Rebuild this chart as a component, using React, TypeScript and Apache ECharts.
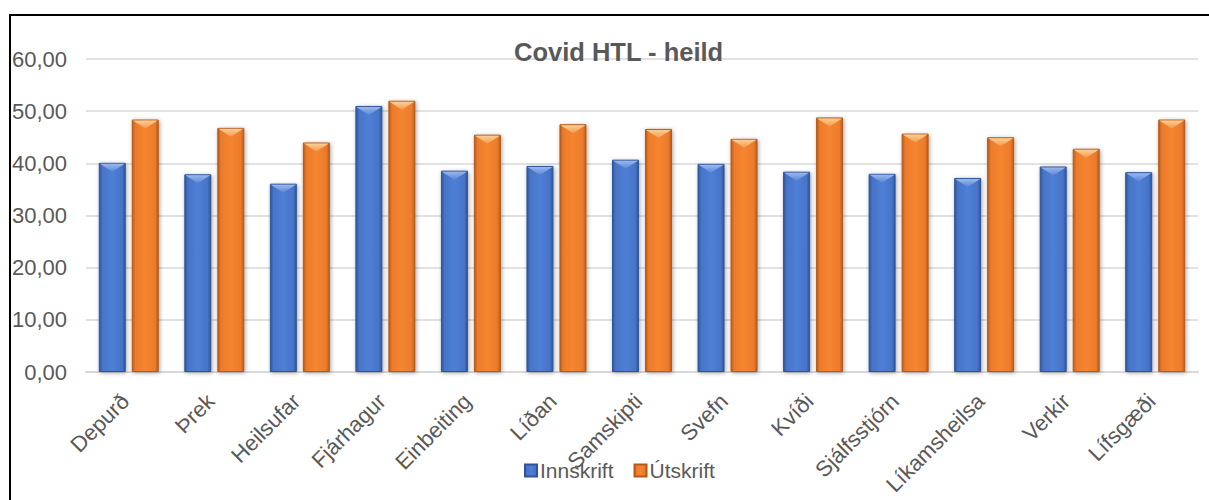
import React, { useEffect, useRef } from "react";
import * as echarts from "echarts";

const categories = [
  "Depurð",
  "Þrek",
  "Heilsufar",
  "Fjárhagur",
  "Einbeiting",
  "Líðan",
  "Samskipti",
  "Svefn",
  "Kvíði",
  "Sjálfsstjórn",
  "Líkamsheilsa",
  "Verkir",
  "Lífsgæði",
];
const innskrift = [40.1, 37.9, 36.1, 51.0, 38.6, 39.5, 40.7, 39.9, 38.4, 38.0, 37.2, 39.4, 38.3];
const utskrift = [48.4, 46.8, 44.0, 52.0, 45.5, 47.5, 46.6, 44.7, 48.8, 45.7, 45.0, 42.8, 48.4];
const seriesNames = ["Innskrift", "Útskrift"];
const yMin = 0;
const yMax = 60;
const yStep = 10;

const BAR_W = 27;
const GAP = 6;
const FONT = "'Liberation Sans', Arial, sans-serif";
const TEXT = "#595959";

const hGrad = (edge: string, mid: string, center: string) =>
  new echarts.graphic.LinearGradient(0, 0, 1, 0, [
    { offset: 0, color: edge },
    { offset: 0.12, color: mid },
    { offset: 0.5, color: center },
    { offset: 0.88, color: mid },
    { offset: 1, color: edge },
  ]);

export default function App() {
  const ref = useRef<HTMLDivElement>(null);
  useEffect(() => {
    document.body.style.margin = "0";
    if (!ref.current) return;
    const chart = echarts.init(ref.current, undefined, { renderer: "svg" });

    const bevelData: number[][] = [];
    innskrift.forEach((v, i) => bevelData.push([i, v, -1]));
    utskrift.forEach((v, i) => bevelData.push([i, v, 1]));

    const shadow = {
      shadowBlur: 4,
      shadowColor: "rgba(0,0,0,0.35)",
      shadowOffsetX: 1,
      shadowOffsetY: 1,
    };

    chart.setOption({
      animation: false,
      backgroundColor: "#ffffff",
      title: {
        text: "Covid HTL - heild",
        left: 509,
        top: 34,
        textStyle: { fontFamily: FONT, fontSize: 25.5, fontWeight: "bold", color: TEXT },
      },
      legend: {
        data: seriesNames,
        left: 519,
        top: 455,
        icon: "rect",
        itemWidth: 12,
        itemHeight: 12,
        itemGap: 20,
        textStyle: { fontFamily: FONT, fontSize: 21, color: TEXT, padding: [0, 0, 0, -2] },
      },
      grid: {
        left: 86,
        right: 11,
        top: 59,
        bottom: 128,
        containLabel: false,
        outerBoundsMode: "none",
      },
      xAxis: {
        type: "category",
        data: categories,
        axisTick: { show: false },
        axisLine: { lineStyle: { color: "#d9d9d9", width: 2 } },
        axisLabel: {
          interval: 0,
          rotate: 45,
          margin: 22,
          padding: [0, 5, 0, 0],
          fontFamily: FONT,
          fontSize: 22,
          color: TEXT,
        },
      },
      yAxis: {
        type: "value",
        min: yMin,
        max: yMax,
        interval: yStep,
        axisLine: { show: false },
        axisTick: { show: false },
        splitLine: { lineStyle: { color: "#d9d9d9", width: 1.5 } },
        axisLabel: {
          margin: 19,
          fontFamily: FONT,
          fontSize: 22,
          color: TEXT,
          formatter: (v: number) => v.toFixed(2).replace(".", ","),
        },
      },
      series: [
        {
          name: seriesNames[0],
          type: "bar",
          data: innskrift,
          barWidth: BAR_W,
          barGap: ((GAP / BAR_W) * 100).toFixed(1) + "%",
          itemStyle: {
            color: hGrad("#2f5597", "#4674c8", "#4f7fd6"),
            borderColor: "#2f5597",
            borderWidth: 1,
            ...shadow,
          },
        },
        {
          name: seriesNames[1],
          type: "bar",
          data: utskrift,
          barWidth: BAR_W,
          itemStyle: {
            color: hGrad("#b95a17", "#ec7b2c", "#f5852f"),
            borderColor: "#b35a1c",
            borderWidth: 1,
            ...shadow,
          },
        },
        {
          type: "custom",
          silent: true,
          z: 5,
          data: bevelData,
          encode: { x: 0, y: 1 },
          renderItem: (params: any, api: any) => {
            const idx = api.value(0);
            const val = api.value(1);
            const side = api.value(2);
            const p = api.coord([idx, val]);
            const cx = p[0] + side * (BAR_W / 2 + GAP / 2);
            const top = p[1];
            const hw = BAR_W / 2 - 1;
            const light = side < 0 ? "#9ab8ee" : "#fccf98";
            const base = side < 0 ? "#5a86d6" : "#f39a4a";
            return {
              type: "polygon",
              shape: {
                points: [
                  [cx - hw, top + 1],
                  [cx + hw, top + 1],
                  [cx, top + 9],
                ],
              },
              style: {
                fill: new echarts.graphic.LinearGradient(0, 0, 0, 1, [
                  { offset: 0, color: light },
                  { offset: 1, color: base },
                ]),
              },
            };
          },
        },
      ],
      graphic: [
        {
          type: "line",
          shape: { x1: 10, y1: 14, x2: 10, y2: 500 },
          style: { stroke: "#000", lineWidth: 2 },
        },
        {
          type: "line",
          shape: { x1: 9, y1: 15, x2: 1209, y2: 15 },
          style: { stroke: "#000", lineWidth: 2 },
        },
      ],
    });
    return () => chart.dispose();
  }, []);
  return <div ref={ref} style={{ width: 1209, height: 500 }} />;
}
